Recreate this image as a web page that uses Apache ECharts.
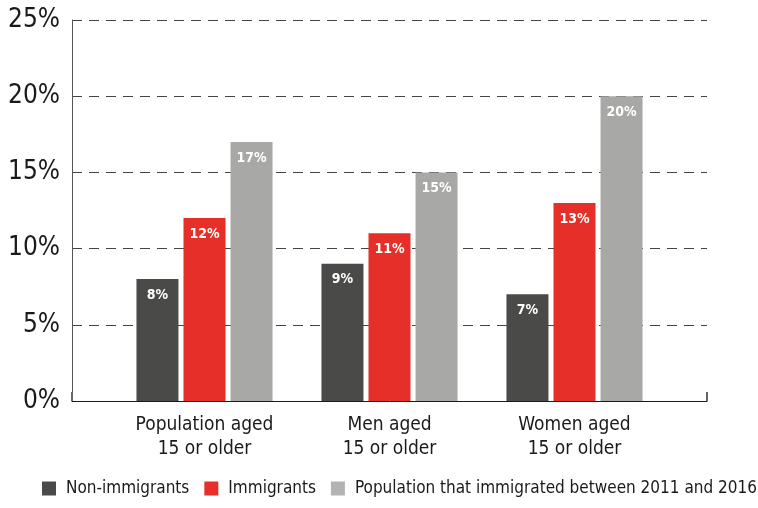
<!DOCTYPE html>
<html>
<head>
<meta charset="utf-8">
<script src="https://cdn.jsdelivr.net/npm/echarts@6/dist/echarts.min.js"></script>
<style>
html,body{margin:0;padding:0;background:#fff;}
#chart{width:758px;height:508px;}
</style>
</head>
<body>
<div id="chart"></div>
<script>
var categories = ['Population aged\n15 or older', 'Men aged\n15 or older', 'Women aged\n15 or older'];
var seriesNames = ['Non-immigrants', 'Immigrants', 'Population that immigrated between 2011 and 2016'];
var nonImmigrants = [8, 9, 7];
var immigrants = [12, 11, 13];
var recentImmigrants = [17, 15, 20];
var yTicks = [0, 5, 10, 15, 20, 25];

var FONT = "'Liberation Sans Narrow', 'DejaVu Sans Condensed', 'Open Sans', sans-serif";
var colors = ['#4a4a49', '#e52f28', '#a8a8a7'];
var legendColors = ['#4a4a49', '#e52f28', '#b3b3b3'];

var chart = echarts.init(document.getElementById('chart'), null, {renderer: 'canvas'});

function barSeries(name, data, idx) {
  return {
    name: name,
    type: 'bar',
    xAxisIndex: 1,
    yAxisIndex: 1,
    data: data,
    barWidth: 42,
    barGap: '12%',
    itemStyle: {color: colors[idx]},
    label: {
      show: true,
      position: 'insideTop',
      distance: 9,
      formatter: '{c}%',
      color: '#ffffff',
      fontWeight: 'bold',
      fontSize: 14,
      fontFamily: FONT
    },
    emphasis: {disabled: true}
  };
}

chart.setOption({
  animation: false,
  backgroundColor: '#ffffff',
  textStyle: {fontFamily: FONT},
  legend: {
    left: 37,
    bottom: 6,
    width: 740,
    itemWidth: 14,
    itemHeight: 14,
    itemGap: 15,
    icon: 'rect',
    textStyle: {fontSize: 17, color: '#1a1a1a', fontFamily: FONT, padding: [0, 0, 0, 5]},
    data: seriesNames.map(function (n, i) { return {name: n, itemStyle: {color: legendColors[i]}}; })
  },
  grid: [
    {left: 72, right: 51, top: 20, bottom: 107, containLabel: false},
    {left: 112, right: 91, top: 20, bottom: 107, containLabel: false}
  ],
  xAxis: [
    {
      gridIndex: 0,
      type: 'category',
      data: [''],
      boundaryGap: true,
      axisLine: {show: true, lineStyle: {color: '#1a1a1a', width: 1}},
      axisTick: {show: true, inside: true, length: 9, lineStyle: {color: '#666', width: 2}},
      axisLabel: {show: false}
    },
    {
      gridIndex: 1,
      type: 'category',
      data: categories,
      axisLine: {show: false},
      axisTick: {show: false},
      axisLabel: {
        show: true,
        interval: 0,
        fontSize: 19,
        lineHeight: 24,
        color: '#1a1a1a',
        margin: 12,
        fontFamily: FONT
      }
    }
  ],
  yAxis: [
    {
      gridIndex: 0,
      type: 'value',
      min: yTicks[0],
      max: yTicks[yTicks.length - 1],
      interval: 5,
      axisLine: {show: true, lineStyle: {color: '#555', width: 1}},
      axisTick: {show: false},
      axisLabel: {
        formatter: '{value}%',
        fontSize: 26,
        color: '#1a1a1a',
        margin: 12,
        padding: [4, 0, 0, 0],
        fontFamily: FONT
      },
      splitLine: {show: true, lineStyle: {type: [10, 7], color: '#444', width: 1}}
    },
    {
      gridIndex: 1,
      type: 'value',
      min: yTicks[0],
      max: yTicks[yTicks.length - 1],
      interval: 5,
      show: false,
      splitLine: {show: false}
    }
  ],
  series: [
    barSeries(seriesNames[0], nonImmigrants, 0),
    barSeries(seriesNames[1], immigrants, 1),
    barSeries(seriesNames[2], recentImmigrants, 2)
  ]
});
</script>
</body>
</html>
